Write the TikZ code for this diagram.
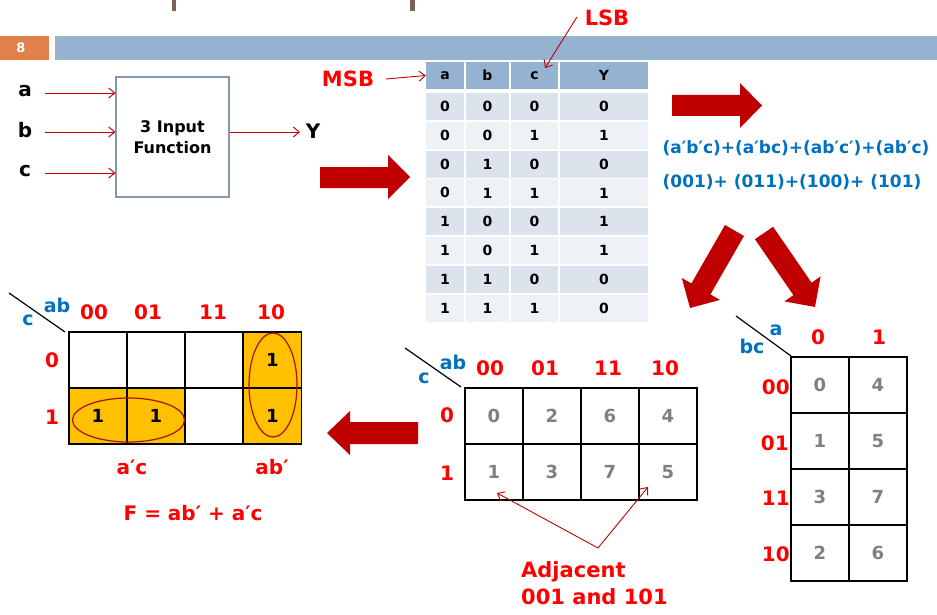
\documentclass[tikz,border=0pt]{standalone}
\usepackage{fontspec}
\setmainfont{DejaVu Sans}
\usetikzlibrary{arrows.meta,shapes.geometric}
\definecolor{hdrorange}{HTML}{E0804A}
\definecolor{hdrblue}{HTML}{95B3D1}
\definecolor{rowdark}{HTML}{DCE3ED}
\definecolor{rowlight}{HTML}{EEF2F7}
\definecolor{bigred}{HTML}{C00000}
\definecolor{labred}{HTML}{FF0000}
\definecolor{labblue}{HTML}{0070C0}
\definecolor{kyellow}{HTML}{FFC000}
\definecolor{kgray}{HTML}{808080}
\definecolor{boxgray}{HTML}{8497AD}
\definecolor{ovalred}{HTML}{A81010}
\definecolor{titlebrown}{HTML}{7B6157}
\begin{document}
\begin{tikzpicture}[x=1pt,y=-1pt,
  thinarrow/.style={draw=bigred, line width=0.9pt, -{Straight Barb[length=6pt,width=10pt]}},
  bigarrow/.style={fill=bigred, draw=none},
  blk/.style={font=\fontsize{20}{24}\selectfont\bfseries, text=black, inner sep=0},
  rlab/.style={font=\fontsize{20}{24}\selectfont\bfseries, text=labred, inner sep=0},
  blab/.style={font=\fontsize{19}{22}\selectfont\bfseries, text=labblue, inner sep=0},
  tcell/.style={minimum height=27, inner sep=0, font=\fontsize{14}{16}\selectfont\bfseries, text=black},
  kcell/.style={draw=black, line width=1.5pt, minimum width=58, minimum height=56, inner sep=0, font=\fontsize{18}{20}\selectfont\bfseries, text=kgray},
  onecell/.style={kcell, fill=kyellow, text=black},
  oval/.style={ellipse, draw=ovalred, line width=1.2pt, inner sep=0},
  diag/.style={draw=black, line width=1.2pt},
  formula/.style={font=\fontsize{17}{20}\selectfont\bfseries, text=labblue, inner sep=0}
]
\useasboundingbox (0,0) rectangle (937,615);
\fill[white] (0,0) rectangle (937,615);

% cut title remnants
\fill[titlebrown] (172,0) rectangle (176,11);
\fill[titlebrown] (410,0) rectangle (415,11);

% header bar
\fill[hdrorange] (0,36) rectangle (49,60);
\fill[hdrblue] (55,36) rectangle (937,60);
\node[font=\fontsize{13}{15}\selectfont\bfseries, text=white, inner sep=0] (pg) at (21,48) {8};

% block diagram
\node[draw=boxgray, line width=1.2pt, minimum width=113, minimum height=120, inner sep=0,
      font=\fontsize{16}{21}\selectfont\bfseries, align=center] (fn) at (172.5,137) {3 Input\\Function};
\node[blk] (la) at (25,91) {a};
\node[blk] (lb) at (25,130) {b};
\node[blk] (lc) at (25,171) {c};
\coordinate (sa) at (45,93);
\coordinate (sb) at (45,132);
\coordinate (sc) at (45,173);
\draw[thinarrow] (sa) -- (sa -| fn.west);
\draw[thinarrow] (sb) -- (sb -| fn.west);
\draw[thinarrow] (sc) -- (sc -| fn.west);
\node[blk] (ly) at (313,131) {Y};
\coordinate (so) at (229,132);
\draw[thinarrow] (so -| fn.east) -- (300,132) coordinate (eo);

% big arrows
\path[bigarrow] (320,167) -- (388,167) -- (388,155) -- (410,177) -- (388,199) -- (388,188) -- (320,188) -- cycle;
\path[bigarrow] (672,95) -- (740,95) -- (740,83) -- (762,105.5) -- (740,128) -- (740,116) -- (672,116) -- cycle;
\path[bigarrow] (418,422) -- (350,422) -- (350,411) -- (327,433) -- (350,455) -- (350,444) -- (418,444) -- cycle;
\path[bigarrow] (725,225) -- (744,236) -- (710.4,294.4) -- (720,299.9) -- (690,308) -- (681.8,278) -- (691.4,283.4) -- cycle;
\path[bigarrow] (754.9,239.2) -- (773.1,226.8) -- (811.6,282.7) -- (820.6,276.4) -- (815,307) -- (784.4,301.4) -- (793.4,295.1) -- cycle;

% truth table
\node[tcell, fill=hdrblue, minimum width=38] (th1) at (445,75.5) {a};
\node[tcell, fill=hdrblue, minimum width=43] (th2) at (487.5,75.5) {b};
\node[tcell, fill=hdrblue, minimum width=47] (th3) at (534.5,75.5) {c};
\node[tcell, fill=hdrblue, minimum width=88] (th4) at (604,75.5) {Y};
\foreach \a/\b/\c/\y [count=\r] in {0/0/0/0,0/0/1/1,0/1/0/0,0/1/1/1,1/0/0/1,1/0/1/1,1/1/0/0,1/1/1/0} {
  \pgfmathsetmacro\yy{106.5+(\r-1)*28.8}
  \pgfmathtruncatemacro\odd{mod(\r,2)}
  \ifnum\odd=1 \def\rc{rowdark}\else\def\rc{rowlight}\fi
  \node[tcell, fill=\rc, minimum width=38] (t-\r-1) at (445,\yy) {\a};
  \node[tcell, fill=\rc, minimum width=43] (t-\r-2) at (487.5,\yy) {\b};
  \node[tcell, fill=\rc, minimum width=47] (t-\r-3) at (534.5,\yy) {\c};
  \node[tcell, fill=\rc, minimum width=88] (t-\r-4) at (604,\yy) {\y};
}
\node[rlab, font=\fontsize{21}{24}\selectfont\bfseries] (msb) at (348,79) {MSB};
\coordinate (msbs) at (386,79);
\draw[thinarrow] (msbs) -- (th1.west);
\node[rlab, font=\fontsize{21}{24}\selectfont\bfseries] (lsb) at (607,18) {LSB};
\coordinate (lsbs) at (577,17);
\coordinate (lsbe) at (545,68);
\draw[thinarrow] (lsbs) -- (lsbe);

% formula
\node[formula] (f1) at (796,148) {(a′b′c)+(a′bc)+(ab′c′)+(ab′c)};
\node[formula] (f2) at (792,182) {(001)+ (011)+(100)+ (101)};

% ---------- left K-map (result)
\foreach \i/\cx in {0/98,1/156,2/214,3/272.5} {
  \foreach \j/\cy in {0/360,1/416} {
    \node[kcell] (L-\i-\j) at (\cx,\cy) {};
  }
}
\node[onecell] (L1-0-1) at (98,416) {1};
\node[onecell] (L1-1-1) at (156,416) {1};
\node[onecell] (L1-3-0) at (272.5,360) {1};
\node[onecell] (L1-3-1) at (272.5,416) {1};
\node[oval, minimum width=112, minimum height=44] (ov1) at (128.5,420) {};
\node[oval, minimum width=48, minimum height=104] (ov2) at (273,385) {};
\node[rlab] (lc00) at (94,312) {00};
\node[rlab] (lc01) at (148,312) {01};
\node[rlab] (lc11) at (213,312) {11};
\node[rlab] (lc10) at (271,312) {10};
\node[rlab] (lr0) at (52,360) {0};
\node[rlab] (lr1) at (52,417) {1};
\node[blab] (lab) at (57,305) {ab};
\node[blab] (lcc) at (28,320) {c};
\coordinate (ld1) at (9,293);
\coordinate (ld2) at (65,332);
\draw[diag] (ld1) -- (ld2);
\node[rlab] (tac) at (132,467) {a′c};
\node[rlab] (tab) at (272,467) {ab′};
\node[rlab] (feq) at (193,513) {F = ab′ + a′c};

% ---------- middle K-map
\foreach \v/\i/\j in {0/0/0,2/1/0,6/2/0,4/3/0,1/0/1,3/1/1,7/2/1,5/3/1} {
  \node[kcell] (M-\i-\j) at (494+58*\i,416+56*\j) {\v};
}
\node[rlab] (mc00) at (490,368) {00};
\node[rlab] (mc01) at (545,368) {01};
\node[rlab] (mc11) at (608,368) {11};
\node[rlab] (mc10) at (665,368) {10};
\node[rlab] (mr0) at (447,415) {0};
\node[rlab] (mr1) at (447,473) {1};
\node[blab] (mab) at (453,362) {ab};
\node[blab] (mcc) at (424,378) {c};
\coordinate (md1) at (405,348);
\coordinate (md2) at (461,387);
\draw[diag] (md1) -- (md2);
\node[rlab, font=\fontsize{21}{27}\selectfont\bfseries, align=left, anchor=west] (adjt) at (521,583) {Adjacent\\001 and 101};
\coordinate (adjc) at (598,548);
\coordinate (adj1) at (497,493);
\coordinate (adj5) at (648,487);
\draw[thinarrow] (adjc) -- (adj1);
\draw[thinarrow] (adjc) -- (adj5);

% ---------- right K-map
\foreach \v/\i/\j in {0/0/0,4/1/0,1/0/1,5/1/1,3/0/2,7/1/2,2/0/3,6/1/3} {
  \node[kcell] (R-\i-\j) at (820+58*\i,385+56*\j) {\v};
}
\node[rlab] (rc0) at (818,337) {0};
\node[rlab] (rc1) at (879,337) {1};
\node[rlab, anchor=east] (rr00) at (790,387) {00};
\node[rlab, anchor=east] (rr01) at (789,443) {01};
\node[rlab, anchor=east] (rr11) at (790,498) {11};
\node[rlab, anchor=east] (rr10) at (790,554) {10};
\node[blab] (ra) at (776,330) {a};
\node[blab] (rbc) at (752,346) {bc};
\coordinate (rd1) at (736,316);
\coordinate (rd2) at (791,356);
\draw[diag] (rd1) -- (rd2);
\end{tikzpicture}
\end{document}
